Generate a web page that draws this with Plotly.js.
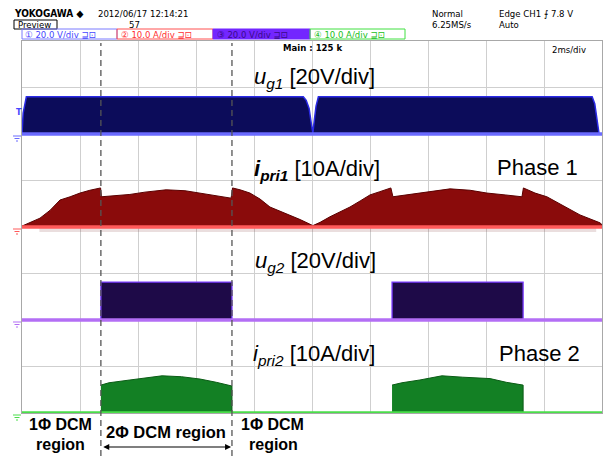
<!DOCTYPE html>
<html><head><meta charset="utf-8">
<script src="https://cdn.plot.ly/plotly-3.0.1.min.js"></script>
<style>html,body{margin:0;padding:0;background:#fff;}#chart{width:605px;height:456px;}</style>
</head><body><div id="chart"></div>
<script>
// ---------- DATA ----------
// time axis in ms (2 ms/div, 10 div)
const timeRange = [0, 20];
const regionEdges = [2.72, 7.24];          // dashed region boundaries (ms)

// CH1 u_g1 (V), 20 V/div
const ug1Time = [0, 0.04, 0.15, 9.70, 9.80, 9.90, 9.97, 10.03, 10.08, 10.14, 10.22, 19.66, 19.75, 19.84, 19.90, 20];
const ug1Volt = [0, 9, 16, 16, 14.5, 11, 5, 0.5, 6, 12, 16, 16, 13, 5, 0, 0];

// CH2 i_pri1 (A), 10 A/div
const ipri1Time = [0, 0.28, 0.62, 0.97, 1.31, 1.66, 2.0, 2.34, 2.71, 2.74, 3.21, 3.72, 4.24, 4.97, 5.62, 6.14, 6.66, 7.21, 7.26, 7.52, 7.86, 8.21, 8.55, 8.9, 9.24, 9.59, 10.03,
  10.28, 10.62, 10.97, 11.31, 11.66, 12.0, 12.34, 12.72, 12.79, 13.72, 14.76, 15.45, 16.03, 16.66, 17.24, 17.29, 17.69, 18.1, 18.55, 19.24, 19.93, 20];
const ipri1Amp = [0.2, 1.0, 1.9, 3.6, 5.8, 6.5, 7.3, 7.9, 8.4, 6.5, 6.7, 7.0, 7.5, 8.0, 7.8, 7.3, 6.8, 6.2, 8.4, 8.0, 7.3, 6.0, 4.3, 3.4, 2.6, 1.6, 0.3,
  1.0, 2.2, 3.3, 4.3, 5.6, 6.9, 7.6, 8.4, 6.5, 7.3, 8.2, 7.9, 7.3, 6.9, 6.5, 8.4, 7.3, 6.5, 5.0, 2.6, 0.9, 0.5];
const ipri1SpikeTime = [0.6, 19.8];
const ipri1SpikeAmp = [-1.1, -1.1];

// CH3 u_g2 (V), 20 V/div  (two gate-on intervals)
const ug2Seg1Time = [2.72, 7.24];
const ug2Seg2Time = [12.76, 17.28];
const ug2Volt = [16.3, 16.3];

// CH4 i_pri2 (A), 10 A/div
const ipri2Seg1Time = [2.72, 3.0, 3.72, 4.5, 4.83, 5.5, 6.14, 6.7, 7.24];
const ipri2Seg1Amp  = [6.0, 6.5, 7.1, 7.8, 8.0, 7.8, 7.3, 6.6, 5.8];
const ipri2Seg2Time = [12.76, 13.1, 13.72, 14.48, 15.2, 16.14, 16.7, 17.28];
const ipri2Seg2Amp  = [6.0, 6.5, 7.1, 8.0, 7.7, 7.4, 6.6, 6.0];

// channel scales (unit/div) and ground offsets (div)
const ch = {
  1: {scale: 20, offset: 6}, 2: {scale: 10, offset: 4},
  3: {scale: 20, offset: 2}, 4: {scale: 10, offset: 0}
};

// ---------- helpers ----------
const toDiv = (c, arr) => arr.map(v => ch[c].offset + v / ch[c].scale);
function band(c, t, v, fill, line, lw) {
  const x = t.concat([t[t.length - 1], t[0]]);
  const y = toDiv(c, v).concat([ch[c].offset, ch[c].offset]);
  return {x, y, type: 'scatter', mode: 'lines', fill: 'toself', fillcolor: fill,
    line: {color: line, width: lw}, hoverinfo: 'skip', showlegend: false};
}
function step(t, v) { // rectangular gate-on block
  return {t: [t[0], t[0], t[1], t[1]], v: [0, v[0], v[1], 0]};
}
function baseline(c, color, w) {
  return {x: timeRange, y: [ch[c].offset, ch[c].offset], type: 'scatter', mode: 'lines',
    line: {color, width: w}, hoverinfo: 'skip', showlegend: false};
}

const g1 = step(ug2Seg1Time, ug2Volt), g2 = step(ug2Seg2Time, ug2Volt);
const traces = [
  band(2, ipri1SpikeTime, ipri1SpikeAmp, 'rgba(140,70,70,0.18)', 'rgba(0,0,0,0)', 0),
  band(1, ug1Time, ug1Volt, '#0c0c5a', '#2a2ae6', 1.5),
  band(2, ipri1Time, ipri1Amp, '#8a0b0b', '#5a0000', 1),
  band(3, g1.t, g1.v, '#1e0a48', '#7a3cff', 1.3),
  band(3, g2.t, g2.v, '#1e0a48', '#7a3cff', 1.3),
  band(4, ipri2Seg1Time, ipri2Seg1Amp, '#138024', '#0b5c16', 1),
  band(4, ipri2Seg2Time, ipri2Seg2Amp, '#138024', '#0b5c16', 1),
  baseline(1, '#6a6aff', 3.5),
  baseline(2, '#ff5a5a', 3.5),
  baseline(3, '#b36ef5', 3.5),
  baseline(4, '#4ade4a', 3.5)
];

// pixel -> paper helpers for text placement
const L = 22, R = 602, T = 41, B = 413;
const px = x => (x - L) / (R - L);
const py = y => (B - y) / (B - T);

const hdrFont = {family: 'Liberation Sans Narrow, DejaVu Sans Condensed, sans-serif', size: 9.5, color: '#000'};
const bigFont = {family: 'Liberation Sans, Arial, sans-serif', size: 22, color: '#000'};
const boldFont = {family: 'Liberation Sans, Arial, sans-serif', size: 16, color: '#000', weight: 'bold'};

function txt(x, y, text, font, xanchor) {
  return {xref: 'paper', yref: 'paper', x: px(x), y: py(y), text, showarrow: false,
    xanchor: xanchor || 'left', yanchor: 'middle', font};
}

const annotations = [
  txt(12, 13, '<b>YOKOGAWA ◆</b>', Object.assign({}, hdrFont, {size: 10})),
  txt(96, 13, '2012/06/17 12:14:21', hdrFont),
  txt(16, 24.5, 'Preview', hdrFont),
  txt(127, 24.5, '57', hdrFont),
  txt(430, 13.5, 'Normal', hdrFont),
  txt(430, 24, '6.25MS/s', hdrFont),
  txt(497, 13.5, 'Edge CH1 ⨍ 7.8 V', hdrFont),
  txt(497, 24, 'Auto', hdrFont),
  txt(23, 34, '① 20.0 V/div ⊒⊡', Object.assign({}, hdrFont, {color: '#4646ff', size: 9.5})),
  txt(119, 34, '② 10.0 A/div ⊒⊡', Object.assign({}, hdrFont, {color: '#ff3030', size: 9.5})),
  txt(215, 34, '③ 20.0 V/div ⊒⊡', Object.assign({}, hdrFont, {color: '#3a0a8a', size: 9.5})),
  txt(312, 34, '④ 10.0 A/div ⊒⊡', Object.assign({}, hdrFont, {color: '#20c020', size: 9.5})),
  txt(312, 47.5, '<b>Main : 125 k</b>', Object.assign({}, hdrFont, {size: 9.5}), 'center'),
  txt(550, 50, '2ms/div', hdrFont),
  txt(14, 112, '<b>T</b>', Object.assign({}, hdrFont, {color: '#4646ff', size: 9})),

  txt(252, 78, '<i>u</i><sub><i>g1</i></sub> [20V/div]', bigFont),
  txt(252, 170, '<b><i>i</i><sub><i>pri1</i></sub></b> [10A/div]', bigFont),
  txt(495, 167, 'Phase 1', bigFont),
  txt(253, 262, '<i>u</i><sub><i>g2</i></sub> [20V/div]', bigFont),
  txt(251, 355, '<i>i</i><sub><i>pri2</i></sub> [10A/div]', bigFont),
  txt(497, 353, 'Phase 2', bigFont),

  txt(60, 424.5, '1Φ DCM', boldFont, 'center'),
  txt(60, 444, 'region', boldFont, 'center'),
  txt(166, 432, '2Φ DCM region', Object.assign({}, boldFont, {size: 16.5}), 'center'),
  txt(272, 424.5, '1Φ DCM', boldFont, 'center'),
  txt(273, 444, 'region', boldFont, 'center'),
  {xref: 'x', yref: 'paper', x: regionEdges[1] - 0.03, y: py(447), axref: 'x', ax: regionEdges[0] + 0.03,
   ayref: 'pixel', ay: 0, text: '', showarrow: true, arrowhead: 2, startarrowhead: 2,
   arrowside: 'end+start', arrowsize: 1, arrowwidth: 1.2, arrowcolor: '#000'}
];

// shapes: channel label boxes, preview box, dashed region lines, ground marks
const shapes = [];
function rect(x0, y0, x1, y1, color, fill) {
  shapes.push({type: 'rect', xref: 'paper', yref: 'paper', x0: px(x0), x1: px(x1), y0: py(y1), y1: py(y0),
    line: {color, width: 1}, fillcolor: fill || 'rgba(0,0,0,0)', layer: 'above'});
}
rect(14, 20, 57, 29, '#000');
rect(22, 29, 117, 39, '#7a7aff');
rect(117, 29, 213, 39, '#ff5050');
rect(213, 29, 310, 39, '#7326ff', '#7326ff');
rect(310, 29, 405, 39, '#40e040');

regionEdges.forEach(t => shapes.push({type: 'line', xref: 'x', yref: 'paper', x0: t, x1: t,
  y0: py(456), y1: py(43), line: {color: '#555', width: 1.3, dash: '6px,4px'}, layer: 'above'}));

const gndColors = {1: '#6a6aff', 2: '#ff5a5a', 3: '#b36ef5', 4: '#4ade4a'};
[1, 2, 3, 4].forEach(c => {
  const yc = B - ch[c].offset * (B - T) / 8 + 2;
  [[13, 21, 0], [14.5, 19.5, 2.5], [16, 18, 5]].forEach(([a, b, d]) =>
    shapes.push({type: 'line', xref: 'paper', yref: 'paper', x0: px(a), x1: px(b), y0: py(yc + d), y1: py(yc + d),
      line: {color: gndColors[c], width: 1}}));
});

const axisCommon = {showgrid: true, gridcolor: '#cfcfcf', gridwidth: 1, zeroline: false,
  showticklabels: false, ticks: '', showline: true, mirror: true, linecolor: '#a8a8a8', linewidth: 1, fixedrange: true};

const layout = {
  width: 605, height: 456,
  margin: {l: L, r: 605 - R, t: T, b: 456 - B, pad: 0},
  paper_bgcolor: '#fff', plot_bgcolor: '#fff',
  xaxis: Object.assign({}, axisCommon, {range: timeRange, dtick: 2, tick0: 0}),
  yaxis: Object.assign({}, axisCommon, {range: [0, 8], dtick: 1, tick0: 0}),
  annotations, shapes, showlegend: false
};

Plotly.newPlot('chart', traces, layout, {displayModeBar: false, staticPlot: true});
</script></body></html>
